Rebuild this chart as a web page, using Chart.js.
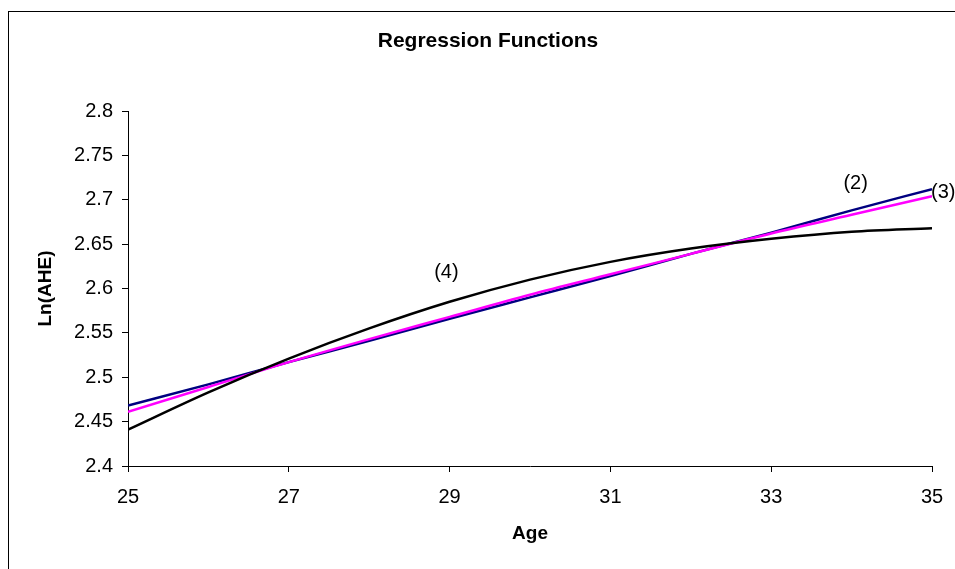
<!DOCTYPE html>
<html><head><meta charset="utf-8">
<script src="https://cdn.jsdelivr.net/npm/chart.js@4"></script>
<style>
html,body{margin:0;padding:0;background:#fff;overflow:hidden}
#wrap{position:relative;width:955px;height:569px;overflow:hidden}
#frame{position:absolute;left:8px;top:11px;width:1000px;height:600px;border-top:1px solid #000;border-left:1px solid #000;pointer-events:none}
canvas{position:absolute;left:0;top:0}
</style></head><body>
<div id="wrap"><canvas id="c" width="955" height="569"></canvas><div id="frame"></div></div>
<script>
const ages   = [25, 26, 27, 28, 29, 30, 31, 32, 33, 34, 35];
const model2 = [2.468, 2.492, 2.517, 2.541, 2.566, 2.590, 2.614, 2.639, 2.663, 2.688, 2.712];
const model3 = [2.461, 2.489, 2.517, 2.543, 2.568, 2.593, 2.616, 2.639, 2.662, 2.683, 2.704];
const model4 = [2.441, 2.483, 2.521, 2.555, 2.585, 2.610, 2.630, 2.645, 2.656, 2.664, 2.668];
const xTicks = [25, 27, 29, 31, 33, 35];
const yTicks = [2.4, 2.45, 2.5, 2.55, 2.6, 2.65, 2.7, 2.75, 2.8];
const noteText = ['(2)', '(3)', '(4)'];
const noteAge  = [34.05, 35.14, 28.96];
const noteVal  = [2.718, 2.708, 2.618];

const FONT = '"Liberation Sans", Arial, sans-serif';
const toPts = arr => ages.map((a, i) => ({x: a, y: arr[i]}));

const notesPlugin = {
  id: 'notes',
  afterDatasetsDraw(chart) {
    const {ctx, scales: {x, y}} = chart;
    ctx.save();
    ctx.font = '20px ' + FONT;
    ctx.fillStyle = '#000';
    ctx.textAlign = 'center';
    ctx.textBaseline = 'middle';
    noteText.forEach((t, i) => ctx.fillText(t, x.getPixelForValue(noteAge[i]), y.getPixelForValue(noteVal[i])));
    ctx.restore();
  }
};

new Chart(document.getElementById('c'), {
  type: 'line',
  data: {
    datasets: [
      {label: '(4)', data: toPts(model4), borderColor: '#000000', borderWidth: 2.5},
      {label: '(3)', data: toPts(model3), borderColor: '#FF00FF', borderWidth: 2.5},
      {label: '(2)', data: toPts(model2), borderColor: '#000080', borderWidth: 2.5}
    ]
  },
  options: {
    responsive: false,
    animation: false,
    layout: {padding: {left: 21, right: 0, top: 0, bottom: 0}},
    elements: {point: {radius: 0}, line: {cubicInterpolationMode: 'monotone', fill: false}},
    plugins: {
      legend: {display: false},
      tooltip: {enabled: false},
      title: {
        display: true, text: 'Regression Functions', color: '#000',
        font: {family: FONT, size: 21, weight: 'bold'},
        padding: {top: 28.4, bottom: 57.4}
      }
    },
    scales: {
      x: {
        type: 'linear', min: 25, max: 35,
        afterBuildTicks: s => { s.ticks = xTicks.map(v => ({value: v})); },
        afterFit: s => { s.height = 103; s.paddingRight = 23; },
        ticks: {color: '#000', font: {family: FONT, size: 20}, padding: 13, maxRotation: 0},
        grid: {drawOnChartArea: false, drawTicks: true, tickLength: 6, color: '#000', tickColor: '#000'},
        border: {display: true, color: '#000', width: 1},
        title: {display: true, text: 'Age', color: '#000', font: {family: FONT, size: 19, weight: 'bold'}, padding: {top: 0, bottom: 23.6}}
      },
      y: {
        type: 'linear', min: 2.4, max: 2.8,
        afterBuildTicks: s => { s.ticks = yTicks.map(v => ({value: v})); },
        afterFit: s => { s.width = 107; },
        ticks: {color: '#000', font: {family: FONT, size: 20}, padding: 9, callback: v => String(Number(v.toFixed(2)))},
        grid: {drawOnChartArea: false, drawTicks: true, tickLength: 6, color: '#000', tickColor: '#000'},
        border: {display: true, color: '#000', width: 1},
        title: {display: true, text: 'Ln(AHE)', color: '#000', font: {family: FONT, size: 19, weight: 'bold'}, padding: {top: 13.6, bottom: 0}}
      }
    }
  },
  plugins: [notesPlugin]
});
</script>
</body></html>
